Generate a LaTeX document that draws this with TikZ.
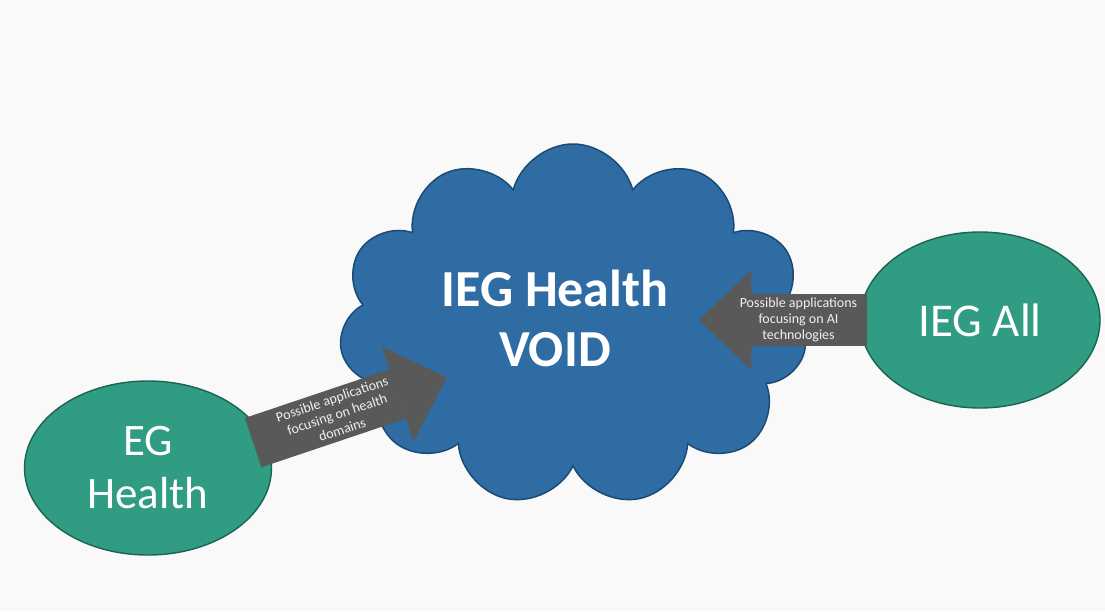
\documentclass[tikz,border=0pt]{standalone}
\usepackage{fontspec}
\setmainfont{Carlito}
\usetikzlibrary{shapes.geometric,shapes.symbols,arrows.meta}

\definecolor{voidblue}{RGB}{46,108,163}
\definecolor{voidedge}{RGB}{28,74,118}
\definecolor{groupgreen}{RGB}{48,156,131}
\definecolor{groupedge}{RGB}{28,100,82}
\definecolor{flowgray}{RGB}{89,89,89}
\definecolor{paper}{RGB}{248,249,248}

\tikzstyle{group} = [ellipse, draw=groupedge, line width=1.4pt, fill=groupgreen, text=white, inner sep=0pt, align=center]
\tikzstyle{void} = [cloud, cloud puffs=11, cloud ignores aspect, draw=voidedge, line width=1.5pt, fill=voidblue]
\tikzstyle{flow} = [draw=flowgray, line width=52pt, -{Triangle[length=52pt,width=100pt,line width=0pt]}]
\tikzstyle{flow text} = [text=white!88!gray, font=\fontsize{14}{16}\selectfont, align=center, sloped]

\begin{document}
\begin{tikzpicture}[x=1pt,y=-1pt]
  \fill[paper] (0,0) rectangle (1105,611);
  \useasboundingbox (0,0) rectangle (1105,611);

  % the void and the two groups around it
  \node[void, minimum width=468pt, minimum height=362pt] (void) at (573,325) {};
  \node[text=white, align=center, font=\bfseries\fontsize{52}{60}\selectfont] (voidlabel) at (555,318) {IEG Health\\VOID};
  \node[group, minimum width=247pt, minimum height=174pt, font=\fontsize{45}{53}\selectfont] (eg) at (148,468) {EG\\Health};
  \node[group, minimum width=240pt, minimum height=176pt, font=\fontsize{47}{55}\selectfont] (ieg) at (980,320) {IEG All};

  % block arrows into the void
  \draw[flow, shorten <=111pt, shorten >=133pt] ([yshift=-10pt]eg.center) -- ([yshift=-10pt]void.center)
       node[flow text, pos=0.445] {Possible applications\\focusing on health\\domains};
  \draw[flow, shorten <=113pt, shorten >=126pt] (ieg.center) -- ([yshift=5pt]void.center)
       node[flow text, pos=0.446] {Possible applications\\focusing on AI\\technologies};
\end{tikzpicture}
\end{document}
